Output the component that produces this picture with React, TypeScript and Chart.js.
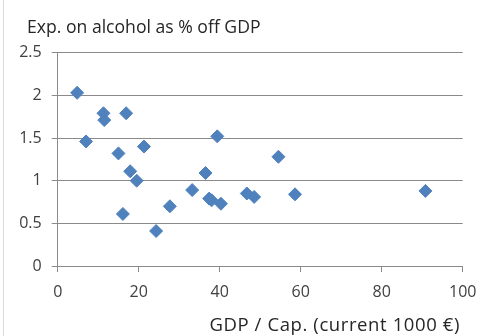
import React, { useEffect, useRef } from "react";
import { Chart, registerables } from "chart.js";

Chart.register(...registerables);

// GDP per capita (current 1000 €)
const gdpPerCap = [
  4.8, 7.0, 11.3, 11.5, 15.0, 16.9, 16.1, 17.9, 19.5, 21.3, 24.3, 27.7,
  33.2, 36.5, 37.4, 38.0, 39.4, 40.3, 46.7, 48.5, 54.5, 58.6, 90.8,
];
// Expenditure on alcohol as % of GDP
const alcoholShare = [
  2.03, 1.46, 1.79, 1.71, 1.32, 1.79, 0.61, 1.11, 1.0, 1.4, 0.41, 0.7,
  0.89, 1.09, 0.79, 0.77, 1.52, 0.73, 0.85, 0.81, 1.28, 0.84, 0.88,
];

const xTicks = [0, 20, 40, 60, 80, 100];
const yTicks = [0, 0.5, 1, 1.5, 2, 2.5];

const yTitle = "Exp. on alcohol as % off GDP";
const xTitle = "GDP / Cap. (current 1000 €)";

const FONT = "'Open Sans', 'Noto Sans', sans-serif";

const titlesPlugin = {
  id: "axisTitles",
  afterDraw(chart: Chart) {
    const ctx = chart.ctx as any;
    ctx.save();
    // faint frame edge on the left
    ctx.strokeStyle = "#d9d9d9";
    ctx.lineWidth = 1;
    ctx.beginPath();
    ctx.moveTo(3.5, 0);
    ctx.lineTo(3.5, chart.height);
    ctx.stroke();

    ctx.fillStyle = "#262626";
    ctx.textBaseline = "alphabetic";
    ctx.font = `17.6px ${FONT}`;
    ctx.textAlign = "left";
    ctx.fillText(yTitle, 27, 33);
    ctx.font = `18.5px ${FONT}`;
    ctx.letterSpacing = "0.6px";
    ctx.textAlign = "right";
    ctx.fillText(xTitle, 460, 331);
    ctx.restore();
  },
};

export default function App() {
  const canvasRef = useRef<HTMLCanvasElement | null>(null);

  useEffect(() => {
    document.body.style.margin = "0";
    const canvas = canvasRef.current;
    if (!canvas) return;
    const points = gdpPerCap.map((x, i) => ({ x, y: alcoholShare[i] }));
    const chart = new Chart(canvas, {
      type: "scatter",
      data: {
        datasets: [
          {
            data: points,
            pointStyle: "rectRot",
            pointRadius: 6.5,
            pointHoverRadius: 6.5,
            backgroundColor: "#4f81bd",
            borderColor: "#4f81bd",
            borderWidth: 1,
          },
        ],
      },
      options: {
        responsive: false,
        animation: false,
        devicePixelRatio: 1,
        layout: { padding: { top: 52.7, right: 37.3, left: 0, bottom: 0 } },
        plugins: {
          legend: { display: false },
          tooltip: { enabled: false },
        },
        scales: {
          x: {
            type: "linear",
            min: 0,
            max: 100,
            afterFit: (s: any) => {
              s.height = 70;
            },
            afterBuildTicks: (s: any) => {
              s.ticks = xTicks.map((v) => ({ value: v }));
            },
            border: { display: true, color: "#8a8a8a", width: 1 },
            grid: {
              drawOnChartArea: false,
              drawTicks: true,
              tickLength: 6,
              color: "#8a8a8a",
            },
            ticks: {
              padding: 11,
              color: "#404040",
              font: { family: FONT, size: 16 },
              maxRotation: 0,
            },
          },
          y: {
            type: "linear",
            min: 0,
            max: 2.5,
            afterFit: (s: any) => {
              s.width = 57.7;
            },
            afterBuildTicks: (s: any) => {
              s.ticks = yTicks.map((v) => ({ value: v }));
            },
            border: { display: true, color: "#8a8a8a", width: 1 },
            grid: {
              drawOnChartArea: true,
              drawTicks: true,
              tickLength: 6,
              color: "#8a8a8a",
            },
            ticks: {
              padding: 10,
              color: "#404040",
              font: { family: FONT, size: 16 },
              callback: (v: any) => String(v),
            },
          },
        },
      },
      plugins: [titlesPlugin],
    });
    return () => chart.destroy();
  }, []);

  return (
    <div style={{ width: 500, height: 336, background: "#fff" }}>
      <canvas ref={canvasRef} width={500} height={336} />
    </div>
  );
}
